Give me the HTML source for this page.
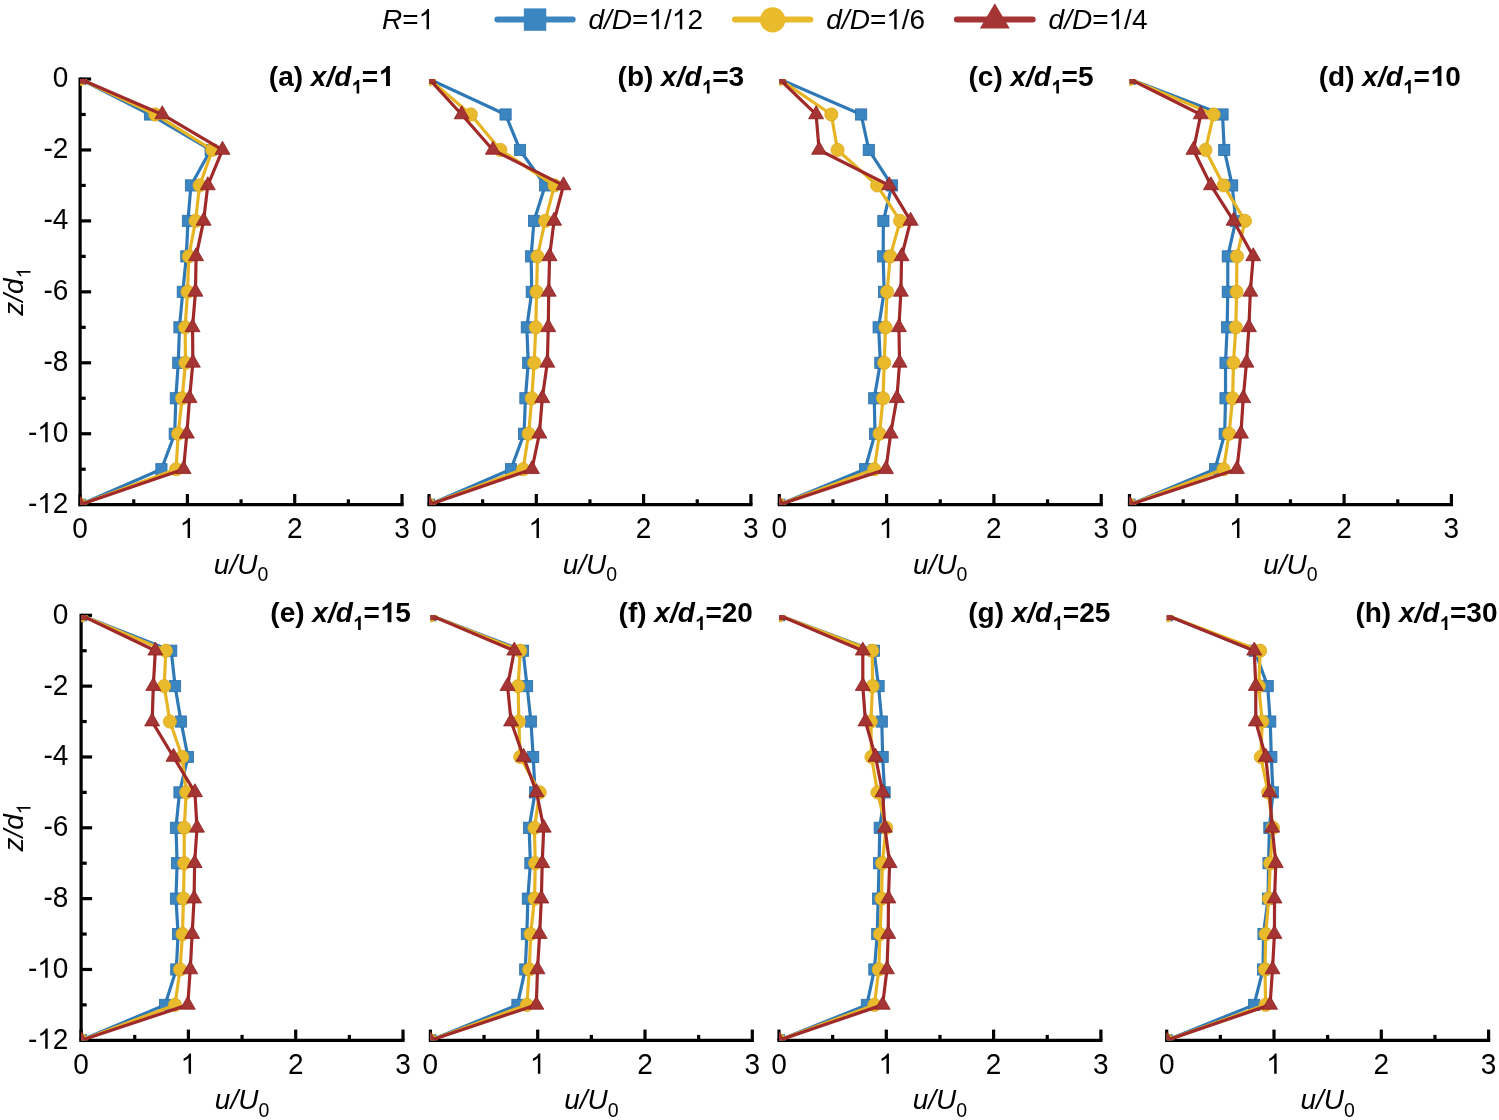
<!DOCTYPE html><html><head><meta charset="utf-8"><title>Velocity profiles</title><style>html,body{margin:0;padding:0;background:#fff;overflow:hidden;}svg{display:block;will-change:transform;}text{font-family:'Liberation Sans', sans-serif;fill:#000;}.o1{fill-opacity:0;}</style></head><body>
<svg width="1499" height="1120" viewBox="0 0 1499 1120">
<rect width="1499" height="1120" fill="#fff"/>
<defs>
<clipPath id="c0"><rect x="80.1" y="79" width="321.9" height="425.7"/></clipPath>
<clipPath id="c1"><rect x="429" y="79" width="321.9" height="425.7"/></clipPath>
<clipPath id="c2"><rect x="779.3" y="79" width="321.9" height="425.7"/></clipPath>
<clipPath id="c3"><rect x="1129.5" y="79" width="321.9" height="425.7"/></clipPath>
<clipPath id="c4"><rect x="81.1" y="615.3" width="321.9" height="425"/></clipPath>
<clipPath id="c5"><rect x="430.4" y="615.3" width="321.9" height="425"/></clipPath>
<clipPath id="c6"><rect x="779" y="615.3" width="321.9" height="425"/></clipPath>
<clipPath id="c7"><rect x="1166.7" y="615.3" width="321.9" height="425"/></clipPath>
</defs>
<g stroke="#000" stroke-width="3.2" fill="none">
<path d="M78.5 504.7H403.6"/>
<path d="M80.1 504.7V494"/>
<path d="M187.4 504.7V494"/>
<path d="M294.7 504.7V494"/>
<path d="M402 504.7V494"/>
<path d="M133.75 504.7V499.3"/>
<path d="M241.05 504.7V499.3"/>
<path d="M348.35 504.7V499.3"/>
<path d="M80.1 77.4V506.3"/>
<path d="M80.1 79H91.1"/>
<path d="M80.1 114.47H85.7"/>
<path d="M80.1 149.95H91.1"/>
<path d="M80.1 185.43H85.7"/>
<path d="M80.1 220.9H91.1"/>
<path d="M80.1 256.38H85.7"/>
<path d="M80.1 291.85H91.1"/>
<path d="M80.1 327.33H85.7"/>
<path d="M80.1 362.8H91.1"/>
<path d="M80.1 398.28H85.7"/>
<path d="M80.1 433.75H91.1"/>
<path d="M80.1 469.23H85.7"/>
</g>
<g clip-path="url(#c0)">
<polyline fill="none" stroke="#2F79B6" stroke-width="3.2" stroke-linejoin="round" points="80.1,79 149.95,114.47 210.58,149.95 190.94,185.43 187.94,220.9 186.33,256.38 182.79,291.85 179.46,327.33 178.28,362.8 175.81,398.28 174.74,433.75 161.43,469.23 80.1,504.7"/>
<rect x="74.5" y="73.4" width="11.2" height="11.2" fill="#3B85C0" stroke="#2B6FAC" stroke-width="0.8"/>
<rect x="144.35" y="108.88" width="11.2" height="11.2" fill="#3B85C0" stroke="#2B6FAC" stroke-width="0.8"/>
<rect x="204.98" y="144.35" width="11.2" height="11.2" fill="#3B85C0" stroke="#2B6FAC" stroke-width="0.8"/>
<rect x="185.34" y="179.83" width="11.2" height="11.2" fill="#3B85C0" stroke="#2B6FAC" stroke-width="0.8"/>
<rect x="182.34" y="215.3" width="11.2" height="11.2" fill="#3B85C0" stroke="#2B6FAC" stroke-width="0.8"/>
<rect x="180.73" y="250.78" width="11.2" height="11.2" fill="#3B85C0" stroke="#2B6FAC" stroke-width="0.8"/>
<rect x="177.19" y="286.25" width="11.2" height="11.2" fill="#3B85C0" stroke="#2B6FAC" stroke-width="0.8"/>
<rect x="173.86" y="321.73" width="11.2" height="11.2" fill="#3B85C0" stroke="#2B6FAC" stroke-width="0.8"/>
<rect x="172.68" y="357.2" width="11.2" height="11.2" fill="#3B85C0" stroke="#2B6FAC" stroke-width="0.8"/>
<rect x="170.21" y="392.68" width="11.2" height="11.2" fill="#3B85C0" stroke="#2B6FAC" stroke-width="0.8"/>
<rect x="169.14" y="428.15" width="11.2" height="11.2" fill="#3B85C0" stroke="#2B6FAC" stroke-width="0.8"/>
<rect x="155.83" y="463.62" width="11.2" height="11.2" fill="#3B85C0" stroke="#2B6FAC" stroke-width="0.8"/>
<rect x="74.5" y="499.1" width="11.2" height="11.2" fill="#3B85C0" stroke="#2B6FAC" stroke-width="0.8"/>
<polyline fill="none" stroke="#E7B424" stroke-width="3.2" stroke-linejoin="round" points="80.1,79 155.32,114.47 212.29,149.95 199.63,185.43 195.55,220.9 188.79,256.38 187.51,291.85 185.15,327.33 185.47,362.8 182.14,398.28 178.17,433.75 176.13,469.23 80.1,504.7"/>
<circle cx="80.1" cy="79" r="6.6" fill="#E9BA2C" stroke="#DCA91E" stroke-width="0.8"/>
<circle cx="155.32" cy="114.47" r="6.6" fill="#E9BA2C" stroke="#DCA91E" stroke-width="0.8"/>
<circle cx="212.29" cy="149.95" r="6.6" fill="#E9BA2C" stroke="#DCA91E" stroke-width="0.8"/>
<circle cx="199.63" cy="185.43" r="6.6" fill="#E9BA2C" stroke="#DCA91E" stroke-width="0.8"/>
<circle cx="195.55" cy="220.9" r="6.6" fill="#E9BA2C" stroke="#DCA91E" stroke-width="0.8"/>
<circle cx="188.79" cy="256.38" r="6.6" fill="#E9BA2C" stroke="#DCA91E" stroke-width="0.8"/>
<circle cx="187.51" cy="291.85" r="6.6" fill="#E9BA2C" stroke="#DCA91E" stroke-width="0.8"/>
<circle cx="185.15" cy="327.33" r="6.6" fill="#E9BA2C" stroke="#DCA91E" stroke-width="0.8"/>
<circle cx="185.47" cy="362.8" r="6.6" fill="#E9BA2C" stroke="#DCA91E" stroke-width="0.8"/>
<circle cx="182.14" cy="398.28" r="6.6" fill="#E9BA2C" stroke="#DCA91E" stroke-width="0.8"/>
<circle cx="178.17" cy="433.75" r="6.6" fill="#E9BA2C" stroke="#DCA91E" stroke-width="0.8"/>
<circle cx="176.13" cy="469.23" r="6.6" fill="#E9BA2C" stroke="#DCA91E" stroke-width="0.8"/>
<circle cx="80.1" cy="504.7" r="6.6" fill="#E9BA2C" stroke="#DCA91E" stroke-width="0.8"/>
<polyline fill="none" stroke="#A02929" stroke-width="3.2" stroke-linejoin="round" points="80.1,79 162.29,114.47 222.49,149.95 207.79,185.43 203.6,220.9 196.09,256.38 195.45,291.85 192.55,327.33 192.87,362.8 189.55,398.28 186.86,433.75 183.54,469.23 80.1,504.7"/>
<path d="M80.1 70.34L87.6 83.33L72.6 83.33Z" fill="#A53434" stroke="#8E2020" stroke-width="0.8" stroke-linejoin="miter"/>
<path d="M162.29 105.81L169.79 118.81L154.79 118.81Z" fill="#A53434" stroke="#8E2020" stroke-width="0.8" stroke-linejoin="miter"/>
<path d="M222.49 141.29L229.99 154.28L214.99 154.28Z" fill="#A53434" stroke="#8E2020" stroke-width="0.8" stroke-linejoin="miter"/>
<path d="M207.79 176.76L215.29 189.76L200.29 189.76Z" fill="#A53434" stroke="#8E2020" stroke-width="0.8" stroke-linejoin="miter"/>
<path d="M203.6 212.24L211.1 225.23L196.1 225.23Z" fill="#A53434" stroke="#8E2020" stroke-width="0.8" stroke-linejoin="miter"/>
<path d="M196.09 247.71L203.59 260.71L188.59 260.71Z" fill="#A53434" stroke="#8E2020" stroke-width="0.8" stroke-linejoin="miter"/>
<path d="M195.45 283.19L202.95 296.18L187.95 296.18Z" fill="#A53434" stroke="#8E2020" stroke-width="0.8" stroke-linejoin="miter"/>
<path d="M192.55 318.66L200.05 331.66L185.05 331.66Z" fill="#A53434" stroke="#8E2020" stroke-width="0.8" stroke-linejoin="miter"/>
<path d="M192.87 354.14L200.37 367.13L185.37 367.13Z" fill="#A53434" stroke="#8E2020" stroke-width="0.8" stroke-linejoin="miter"/>
<path d="M189.55 389.61L197.05 402.61L182.05 402.61Z" fill="#A53434" stroke="#8E2020" stroke-width="0.8" stroke-linejoin="miter"/>
<path d="M186.86 425.09L194.36 438.08L179.36 438.08Z" fill="#A53434" stroke="#8E2020" stroke-width="0.8" stroke-linejoin="miter"/>
<path d="M183.54 460.56L191.04 473.56L176.04 473.56Z" fill="#A53434" stroke="#8E2020" stroke-width="0.8" stroke-linejoin="miter"/>
<path d="M80.1 496.04L87.6 509.03L72.6 509.03Z" fill="#A53434" stroke="#8E2020" stroke-width="0.8" stroke-linejoin="miter"/>
</g>
<text transform="translate(80.1 538.1) scale(1 1.04)" font-size="28" text-anchor="middle">0</text>
<text transform="translate(187.4 538.1) scale(1 1.04)" font-size="28" text-anchor="middle"><tspan class="o1">1</tspan></text>
<text transform="translate(294.7 538.1) scale(1 1.04)" font-size="28" text-anchor="middle">2</text>
<text transform="translate(402 538.1) scale(1 1.04)" font-size="28" text-anchor="middle">3</text>
<text x="241.05" y="573.5" font-size="28" text-anchor="middle"><tspan font-style="italic">u</tspan><tspan font-style="italic">/U</tspan><tspan font-size="19.5" dy="7.7">0</tspan></text>
<text transform="translate(68.4 87.4) scale(1 1.04)" font-size="28" text-anchor="end">0</text>
<text transform="translate(68.4 158.35) scale(1 1.04)" font-size="28" text-anchor="end">-2</text>
<text transform="translate(68.4 229.3) scale(1 1.04)" font-size="28" text-anchor="end">-4</text>
<text transform="translate(68.4 300.25) scale(1 1.04)" font-size="28" text-anchor="end">-6</text>
<text transform="translate(68.4 371.2) scale(1 1.04)" font-size="28" text-anchor="end">-8</text>
<text transform="translate(68.4 442.15) scale(1 1.04)" font-size="28" text-anchor="end">-<tspan class="o1">1</tspan>0</text>
<text transform="translate(68.4 513.1) scale(1 1.04)" font-size="28" text-anchor="end">-<tspan class="o1">1</tspan>2</text>
<text transform="translate(22.8 291.55) rotate(-90)" font-size="28" text-anchor="middle"><tspan font-style="italic">z/d</tspan><tspan font-size="19.5" dy="7.7"><tspan class="o1">1</tspan></tspan></text>
<text x="393.8" y="86" font-size="28" font-weight="bold" text-anchor="end">(a) <tspan font-style="italic">x/d</tspan><tspan font-size="19" dy="7.6"><tspan class="o1">1</tspan></tspan><tspan dy="-7.6">=<tspan class="o1">1</tspan></tspan></text>
<g stroke="#000" stroke-width="3.2" fill="none">
<path d="M427.4 504.7H752.5"/>
<path d="M429 504.7V494"/>
<path d="M536.3 504.7V494"/>
<path d="M643.6 504.7V494"/>
<path d="M750.9 504.7V494"/>
<path d="M482.65 504.7V499.3"/>
<path d="M589.95 504.7V499.3"/>
<path d="M697.25 504.7V499.3"/>
</g>
<g clip-path="url(#c1)">
<polyline fill="none" stroke="#2F79B6" stroke-width="3.2" stroke-linejoin="round" points="429,79 505.58,114.47 519.95,149.95 545.17,185.43 534.01,220.9 531.11,256.38 531.76,291.85 526.82,327.33 528.22,362.8 525.43,398.28 524.03,433.75 510.94,469.23 429,504.7"/>
<rect x="423.4" y="73.4" width="11.2" height="11.2" fill="#3B85C0" stroke="#2B6FAC" stroke-width="0.8"/>
<rect x="499.98" y="108.88" width="11.2" height="11.2" fill="#3B85C0" stroke="#2B6FAC" stroke-width="0.8"/>
<rect x="514.35" y="144.35" width="11.2" height="11.2" fill="#3B85C0" stroke="#2B6FAC" stroke-width="0.8"/>
<rect x="539.57" y="179.83" width="11.2" height="11.2" fill="#3B85C0" stroke="#2B6FAC" stroke-width="0.8"/>
<rect x="528.41" y="215.3" width="11.2" height="11.2" fill="#3B85C0" stroke="#2B6FAC" stroke-width="0.8"/>
<rect x="525.51" y="250.78" width="11.2" height="11.2" fill="#3B85C0" stroke="#2B6FAC" stroke-width="0.8"/>
<rect x="526.16" y="286.25" width="11.2" height="11.2" fill="#3B85C0" stroke="#2B6FAC" stroke-width="0.8"/>
<rect x="521.22" y="321.73" width="11.2" height="11.2" fill="#3B85C0" stroke="#2B6FAC" stroke-width="0.8"/>
<rect x="522.62" y="357.2" width="11.2" height="11.2" fill="#3B85C0" stroke="#2B6FAC" stroke-width="0.8"/>
<rect x="519.83" y="392.68" width="11.2" height="11.2" fill="#3B85C0" stroke="#2B6FAC" stroke-width="0.8"/>
<rect x="518.43" y="428.15" width="11.2" height="11.2" fill="#3B85C0" stroke="#2B6FAC" stroke-width="0.8"/>
<rect x="505.34" y="463.62" width="11.2" height="11.2" fill="#3B85C0" stroke="#2B6FAC" stroke-width="0.8"/>
<rect x="423.4" y="499.1" width="11.2" height="11.2" fill="#3B85C0" stroke="#2B6FAC" stroke-width="0.8"/>
<polyline fill="none" stroke="#E7B424" stroke-width="3.2" stroke-linejoin="round" points="429,79 470.81,114.47 500.32,149.95 554.5,185.43 545.17,220.9 537.44,256.38 536.59,291.85 535.73,327.33 534.22,362.8 531.76,398.28 528.65,433.75 523.07,469.23 429,504.7"/>
<circle cx="429" cy="79" r="6.6" fill="#E9BA2C" stroke="#DCA91E" stroke-width="0.8"/>
<circle cx="470.81" cy="114.47" r="6.6" fill="#E9BA2C" stroke="#DCA91E" stroke-width="0.8"/>
<circle cx="500.32" cy="149.95" r="6.6" fill="#E9BA2C" stroke="#DCA91E" stroke-width="0.8"/>
<circle cx="554.5" cy="185.43" r="6.6" fill="#E9BA2C" stroke="#DCA91E" stroke-width="0.8"/>
<circle cx="545.17" cy="220.9" r="6.6" fill="#E9BA2C" stroke="#DCA91E" stroke-width="0.8"/>
<circle cx="537.44" cy="256.38" r="6.6" fill="#E9BA2C" stroke="#DCA91E" stroke-width="0.8"/>
<circle cx="536.59" cy="291.85" r="6.6" fill="#E9BA2C" stroke="#DCA91E" stroke-width="0.8"/>
<circle cx="535.73" cy="327.33" r="6.6" fill="#E9BA2C" stroke="#DCA91E" stroke-width="0.8"/>
<circle cx="534.22" cy="362.8" r="6.6" fill="#E9BA2C" stroke="#DCA91E" stroke-width="0.8"/>
<circle cx="531.76" cy="398.28" r="6.6" fill="#E9BA2C" stroke="#DCA91E" stroke-width="0.8"/>
<circle cx="528.65" cy="433.75" r="6.6" fill="#E9BA2C" stroke="#DCA91E" stroke-width="0.8"/>
<circle cx="523.07" cy="469.23" r="6.6" fill="#E9BA2C" stroke="#DCA91E" stroke-width="0.8"/>
<circle cx="429" cy="504.7" r="6.6" fill="#E9BA2C" stroke="#DCA91E" stroke-width="0.8"/>
<polyline fill="none" stroke="#A02929" stroke-width="3.2" stroke-linejoin="round" points="429,79 461.69,114.47 492.91,149.95 563.52,185.43 554.08,220.9 549.57,256.38 548.71,291.85 548.28,327.33 547.32,362.8 542.27,398.28 539.38,433.75 531.97,469.23 429,504.7"/>
<path d="M429 70.34L436.5 83.33L421.5 83.33Z" fill="#A53434" stroke="#8E2020" stroke-width="0.8" stroke-linejoin="miter"/>
<path d="M461.69 105.81L469.19 118.81L454.19 118.81Z" fill="#A53434" stroke="#8E2020" stroke-width="0.8" stroke-linejoin="miter"/>
<path d="M492.91 141.29L500.41 154.28L485.41 154.28Z" fill="#A53434" stroke="#8E2020" stroke-width="0.8" stroke-linejoin="miter"/>
<path d="M563.52 176.76L571.02 189.76L556.02 189.76Z" fill="#A53434" stroke="#8E2020" stroke-width="0.8" stroke-linejoin="miter"/>
<path d="M554.08 212.24L561.58 225.23L546.58 225.23Z" fill="#A53434" stroke="#8E2020" stroke-width="0.8" stroke-linejoin="miter"/>
<path d="M549.57 247.71L557.07 260.71L542.07 260.71Z" fill="#A53434" stroke="#8E2020" stroke-width="0.8" stroke-linejoin="miter"/>
<path d="M548.71 283.19L556.21 296.18L541.21 296.18Z" fill="#A53434" stroke="#8E2020" stroke-width="0.8" stroke-linejoin="miter"/>
<path d="M548.28 318.66L555.78 331.66L540.78 331.66Z" fill="#A53434" stroke="#8E2020" stroke-width="0.8" stroke-linejoin="miter"/>
<path d="M547.32 354.14L554.82 367.13L539.82 367.13Z" fill="#A53434" stroke="#8E2020" stroke-width="0.8" stroke-linejoin="miter"/>
<path d="M542.27 389.61L549.77 402.61L534.77 402.61Z" fill="#A53434" stroke="#8E2020" stroke-width="0.8" stroke-linejoin="miter"/>
<path d="M539.38 425.09L546.88 438.08L531.88 438.08Z" fill="#A53434" stroke="#8E2020" stroke-width="0.8" stroke-linejoin="miter"/>
<path d="M531.97 460.56L539.47 473.56L524.47 473.56Z" fill="#A53434" stroke="#8E2020" stroke-width="0.8" stroke-linejoin="miter"/>
<path d="M429 496.04L436.5 509.03L421.5 509.03Z" fill="#A53434" stroke="#8E2020" stroke-width="0.8" stroke-linejoin="miter"/>
</g>
<text transform="translate(429 538.1) scale(1 1.04)" font-size="28" text-anchor="middle">0</text>
<text transform="translate(536.3 538.1) scale(1 1.04)" font-size="28" text-anchor="middle"><tspan class="o1">1</tspan></text>
<text transform="translate(643.6 538.1) scale(1 1.04)" font-size="28" text-anchor="middle">2</text>
<text transform="translate(750.9 538.1) scale(1 1.04)" font-size="28" text-anchor="middle">3</text>
<text x="589.95" y="573.5" font-size="28" text-anchor="middle"><tspan font-style="italic">u</tspan><tspan font-style="italic">/U</tspan><tspan font-size="19.5" dy="7.7">0</tspan></text>
<text x="744.1" y="86" font-size="28" font-weight="bold" text-anchor="end">(b) <tspan font-style="italic">x/d</tspan><tspan font-size="19" dy="7.6"><tspan class="o1">1</tspan></tspan><tspan dy="-7.6">=3</tspan></text>
<g stroke="#000" stroke-width="3.2" fill="none">
<path d="M777.7 504.7H1102.8"/>
<path d="M779.3 504.7V494"/>
<path d="M886.6 504.7V494"/>
<path d="M993.9 504.7V494"/>
<path d="M1101.2 504.7V494"/>
<path d="M832.95 504.7V499.3"/>
<path d="M940.25 504.7V499.3"/>
<path d="M1047.55 504.7V499.3"/>
</g>
<g clip-path="url(#c2)">
<polyline fill="none" stroke="#2F79B6" stroke-width="3.2" stroke-linejoin="round" points="779.3,79 861.16,114.47 868.77,149.95 891.84,185.43 883.37,220.9 883.15,256.38 884.12,291.85 878.65,327.33 880.36,362.8 874.25,398.28 875,433.75 865.02,469.23 779.3,504.7"/>
<rect x="773.7" y="73.4" width="11.2" height="11.2" fill="#3B85C0" stroke="#2B6FAC" stroke-width="0.8"/>
<rect x="855.56" y="108.88" width="11.2" height="11.2" fill="#3B85C0" stroke="#2B6FAC" stroke-width="0.8"/>
<rect x="863.17" y="144.35" width="11.2" height="11.2" fill="#3B85C0" stroke="#2B6FAC" stroke-width="0.8"/>
<rect x="886.24" y="179.83" width="11.2" height="11.2" fill="#3B85C0" stroke="#2B6FAC" stroke-width="0.8"/>
<rect x="877.77" y="215.3" width="11.2" height="11.2" fill="#3B85C0" stroke="#2B6FAC" stroke-width="0.8"/>
<rect x="877.55" y="250.78" width="11.2" height="11.2" fill="#3B85C0" stroke="#2B6FAC" stroke-width="0.8"/>
<rect x="878.52" y="286.25" width="11.2" height="11.2" fill="#3B85C0" stroke="#2B6FAC" stroke-width="0.8"/>
<rect x="873.05" y="321.73" width="11.2" height="11.2" fill="#3B85C0" stroke="#2B6FAC" stroke-width="0.8"/>
<rect x="874.76" y="357.2" width="11.2" height="11.2" fill="#3B85C0" stroke="#2B6FAC" stroke-width="0.8"/>
<rect x="868.65" y="392.68" width="11.2" height="11.2" fill="#3B85C0" stroke="#2B6FAC" stroke-width="0.8"/>
<rect x="869.4" y="428.15" width="11.2" height="11.2" fill="#3B85C0" stroke="#2B6FAC" stroke-width="0.8"/>
<rect x="859.42" y="463.62" width="11.2" height="11.2" fill="#3B85C0" stroke="#2B6FAC" stroke-width="0.8"/>
<rect x="773.7" y="499.1" width="11.2" height="11.2" fill="#3B85C0" stroke="#2B6FAC" stroke-width="0.8"/>
<polyline fill="none" stroke="#E7B424" stroke-width="3.2" stroke-linejoin="round" points="779.3,79 831.33,114.47 837.55,149.95 877.14,185.43 900.11,220.9 890.23,256.38 887.12,291.85 885.51,327.33 884.22,362.8 883.04,398.28 879.5,433.75 874.25,469.23 779.3,504.7"/>
<circle cx="779.3" cy="79" r="6.6" fill="#E9BA2C" stroke="#DCA91E" stroke-width="0.8"/>
<circle cx="831.33" cy="114.47" r="6.6" fill="#E9BA2C" stroke="#DCA91E" stroke-width="0.8"/>
<circle cx="837.55" cy="149.95" r="6.6" fill="#E9BA2C" stroke="#DCA91E" stroke-width="0.8"/>
<circle cx="877.14" cy="185.43" r="6.6" fill="#E9BA2C" stroke="#DCA91E" stroke-width="0.8"/>
<circle cx="900.11" cy="220.9" r="6.6" fill="#E9BA2C" stroke="#DCA91E" stroke-width="0.8"/>
<circle cx="890.23" cy="256.38" r="6.6" fill="#E9BA2C" stroke="#DCA91E" stroke-width="0.8"/>
<circle cx="887.12" cy="291.85" r="6.6" fill="#E9BA2C" stroke="#DCA91E" stroke-width="0.8"/>
<circle cx="885.51" cy="327.33" r="6.6" fill="#E9BA2C" stroke="#DCA91E" stroke-width="0.8"/>
<circle cx="884.22" cy="362.8" r="6.6" fill="#E9BA2C" stroke="#DCA91E" stroke-width="0.8"/>
<circle cx="883.04" cy="398.28" r="6.6" fill="#E9BA2C" stroke="#DCA91E" stroke-width="0.8"/>
<circle cx="879.5" cy="433.75" r="6.6" fill="#E9BA2C" stroke="#DCA91E" stroke-width="0.8"/>
<circle cx="874.25" cy="469.23" r="6.6" fill="#E9BA2C" stroke="#DCA91E" stroke-width="0.8"/>
<circle cx="779.3" cy="504.7" r="6.6" fill="#E9BA2C" stroke="#DCA91E" stroke-width="0.8"/>
<polyline fill="none" stroke="#A02929" stroke-width="3.2" stroke-linejoin="round" points="779.3,79 816.09,114.47 819.09,149.95 889.16,185.43 910.62,220.9 901.61,256.38 900.86,291.85 898.92,327.33 899.57,362.8 896.89,398.28 890.66,433.75 885.94,469.23 779.3,504.7"/>
<path d="M779.3 70.34L786.8 83.33L771.8 83.33Z" fill="#A53434" stroke="#8E2020" stroke-width="0.8" stroke-linejoin="miter"/>
<path d="M816.09 105.81L823.59 118.81L808.59 118.81Z" fill="#A53434" stroke="#8E2020" stroke-width="0.8" stroke-linejoin="miter"/>
<path d="M819.09 141.29L826.59 154.28L811.59 154.28Z" fill="#A53434" stroke="#8E2020" stroke-width="0.8" stroke-linejoin="miter"/>
<path d="M889.16 176.76L896.66 189.76L881.66 189.76Z" fill="#A53434" stroke="#8E2020" stroke-width="0.8" stroke-linejoin="miter"/>
<path d="M910.62 212.24L918.12 225.23L903.12 225.23Z" fill="#A53434" stroke="#8E2020" stroke-width="0.8" stroke-linejoin="miter"/>
<path d="M901.61 247.71L909.11 260.71L894.11 260.71Z" fill="#A53434" stroke="#8E2020" stroke-width="0.8" stroke-linejoin="miter"/>
<path d="M900.86 283.19L908.36 296.18L893.36 296.18Z" fill="#A53434" stroke="#8E2020" stroke-width="0.8" stroke-linejoin="miter"/>
<path d="M898.92 318.66L906.42 331.66L891.42 331.66Z" fill="#A53434" stroke="#8E2020" stroke-width="0.8" stroke-linejoin="miter"/>
<path d="M899.57 354.14L907.07 367.13L892.07 367.13Z" fill="#A53434" stroke="#8E2020" stroke-width="0.8" stroke-linejoin="miter"/>
<path d="M896.89 389.61L904.39 402.61L889.39 402.61Z" fill="#A53434" stroke="#8E2020" stroke-width="0.8" stroke-linejoin="miter"/>
<path d="M890.66 425.09L898.16 438.08L883.16 438.08Z" fill="#A53434" stroke="#8E2020" stroke-width="0.8" stroke-linejoin="miter"/>
<path d="M885.94 460.56L893.44 473.56L878.44 473.56Z" fill="#A53434" stroke="#8E2020" stroke-width="0.8" stroke-linejoin="miter"/>
<path d="M779.3 496.04L786.8 509.03L771.8 509.03Z" fill="#A53434" stroke="#8E2020" stroke-width="0.8" stroke-linejoin="miter"/>
</g>
<text transform="translate(779.3 538.1) scale(1 1.04)" font-size="28" text-anchor="middle">0</text>
<text transform="translate(886.6 538.1) scale(1 1.04)" font-size="28" text-anchor="middle"><tspan class="o1">1</tspan></text>
<text transform="translate(993.9 538.1) scale(1 1.04)" font-size="28" text-anchor="middle">2</text>
<text transform="translate(1101.2 538.1) scale(1 1.04)" font-size="28" text-anchor="middle">3</text>
<text x="940.25" y="573.5" font-size="28" text-anchor="middle"><tspan font-style="italic">u</tspan><tspan font-style="italic">/U</tspan><tspan font-size="19.5" dy="7.7">0</tspan></text>
<text x="1093.5" y="86" font-size="28" font-weight="bold" text-anchor="end">(c) <tspan font-style="italic">x/d</tspan><tspan font-size="19" dy="7.6"><tspan class="o1">1</tspan></tspan><tspan dy="-7.6">=5</tspan></text>
<g stroke="#000" stroke-width="3.2" fill="none">
<path d="M1127.9 504.7H1453"/>
<path d="M1129.5 504.7V494"/>
<path d="M1236.8 504.7V494"/>
<path d="M1344.1 504.7V494"/>
<path d="M1451.4 504.7V494"/>
<path d="M1183.15 504.7V499.3"/>
<path d="M1290.45 504.7V499.3"/>
<path d="M1397.75 504.7V499.3"/>
</g>
<g clip-path="url(#c3)">
<polyline fill="none" stroke="#2F79B6" stroke-width="3.2" stroke-linejoin="round" points="1129.5,79 1222.53,114.47 1224.25,149.95 1232.19,185.43 1235.73,220.9 1227.79,256.38 1227.79,291.85 1227.14,327.33 1225.53,362.8 1225.53,398.28 1224.68,433.75 1215.02,469.23 1129.5,504.7"/>
<rect x="1123.9" y="73.4" width="11.2" height="11.2" fill="#3B85C0" stroke="#2B6FAC" stroke-width="0.8"/>
<rect x="1216.93" y="108.88" width="11.2" height="11.2" fill="#3B85C0" stroke="#2B6FAC" stroke-width="0.8"/>
<rect x="1218.65" y="144.35" width="11.2" height="11.2" fill="#3B85C0" stroke="#2B6FAC" stroke-width="0.8"/>
<rect x="1226.59" y="179.83" width="11.2" height="11.2" fill="#3B85C0" stroke="#2B6FAC" stroke-width="0.8"/>
<rect x="1230.13" y="215.3" width="11.2" height="11.2" fill="#3B85C0" stroke="#2B6FAC" stroke-width="0.8"/>
<rect x="1222.19" y="250.78" width="11.2" height="11.2" fill="#3B85C0" stroke="#2B6FAC" stroke-width="0.8"/>
<rect x="1222.19" y="286.25" width="11.2" height="11.2" fill="#3B85C0" stroke="#2B6FAC" stroke-width="0.8"/>
<rect x="1221.54" y="321.73" width="11.2" height="11.2" fill="#3B85C0" stroke="#2B6FAC" stroke-width="0.8"/>
<rect x="1219.93" y="357.2" width="11.2" height="11.2" fill="#3B85C0" stroke="#2B6FAC" stroke-width="0.8"/>
<rect x="1219.93" y="392.68" width="11.2" height="11.2" fill="#3B85C0" stroke="#2B6FAC" stroke-width="0.8"/>
<rect x="1219.08" y="428.15" width="11.2" height="11.2" fill="#3B85C0" stroke="#2B6FAC" stroke-width="0.8"/>
<rect x="1209.42" y="463.62" width="11.2" height="11.2" fill="#3B85C0" stroke="#2B6FAC" stroke-width="0.8"/>
<rect x="1123.9" y="499.1" width="11.2" height="11.2" fill="#3B85C0" stroke="#2B6FAC" stroke-width="0.8"/>
<polyline fill="none" stroke="#E7B424" stroke-width="3.2" stroke-linejoin="round" points="1129.5,79 1213.62,114.47 1205.47,149.95 1223.6,185.43 1244.95,220.9 1236.91,256.38 1236.59,291.85 1235.83,327.33 1233.47,362.8 1232.62,398.28 1229.07,433.75 1223.49,469.23 1129.5,504.7"/>
<circle cx="1129.5" cy="79" r="6.6" fill="#E9BA2C" stroke="#DCA91E" stroke-width="0.8"/>
<circle cx="1213.62" cy="114.47" r="6.6" fill="#E9BA2C" stroke="#DCA91E" stroke-width="0.8"/>
<circle cx="1205.47" cy="149.95" r="6.6" fill="#E9BA2C" stroke="#DCA91E" stroke-width="0.8"/>
<circle cx="1223.6" cy="185.43" r="6.6" fill="#E9BA2C" stroke="#DCA91E" stroke-width="0.8"/>
<circle cx="1244.95" cy="220.9" r="6.6" fill="#E9BA2C" stroke="#DCA91E" stroke-width="0.8"/>
<circle cx="1236.91" cy="256.38" r="6.6" fill="#E9BA2C" stroke="#DCA91E" stroke-width="0.8"/>
<circle cx="1236.59" cy="291.85" r="6.6" fill="#E9BA2C" stroke="#DCA91E" stroke-width="0.8"/>
<circle cx="1235.83" cy="327.33" r="6.6" fill="#E9BA2C" stroke="#DCA91E" stroke-width="0.8"/>
<circle cx="1233.47" cy="362.8" r="6.6" fill="#E9BA2C" stroke="#DCA91E" stroke-width="0.8"/>
<circle cx="1232.62" cy="398.28" r="6.6" fill="#E9BA2C" stroke="#DCA91E" stroke-width="0.8"/>
<circle cx="1229.07" cy="433.75" r="6.6" fill="#E9BA2C" stroke="#DCA91E" stroke-width="0.8"/>
<circle cx="1223.49" cy="469.23" r="6.6" fill="#E9BA2C" stroke="#DCA91E" stroke-width="0.8"/>
<circle cx="1129.5" cy="504.7" r="6.6" fill="#E9BA2C" stroke="#DCA91E" stroke-width="0.8"/>
<polyline fill="none" stroke="#A02929" stroke-width="3.2" stroke-linejoin="round" points="1129.5,79 1200.75,114.47 1193.45,149.95 1210.94,185.43 1233.58,220.9 1253.22,256.38 1250.32,291.85 1248.92,327.33 1246.46,362.8 1243.24,398.28 1240.88,433.75 1236.91,469.23 1129.5,504.7"/>
<path d="M1129.5 70.34L1137 83.33L1122 83.33Z" fill="#A53434" stroke="#8E2020" stroke-width="0.8" stroke-linejoin="miter"/>
<path d="M1200.75 105.81L1208.25 118.81L1193.25 118.81Z" fill="#A53434" stroke="#8E2020" stroke-width="0.8" stroke-linejoin="miter"/>
<path d="M1193.45 141.29L1200.95 154.28L1185.95 154.28Z" fill="#A53434" stroke="#8E2020" stroke-width="0.8" stroke-linejoin="miter"/>
<path d="M1210.94 176.76L1218.44 189.76L1203.44 189.76Z" fill="#A53434" stroke="#8E2020" stroke-width="0.8" stroke-linejoin="miter"/>
<path d="M1233.58 212.24L1241.08 225.23L1226.08 225.23Z" fill="#A53434" stroke="#8E2020" stroke-width="0.8" stroke-linejoin="miter"/>
<path d="M1253.22 247.71L1260.72 260.71L1245.72 260.71Z" fill="#A53434" stroke="#8E2020" stroke-width="0.8" stroke-linejoin="miter"/>
<path d="M1250.32 283.19L1257.82 296.18L1242.82 296.18Z" fill="#A53434" stroke="#8E2020" stroke-width="0.8" stroke-linejoin="miter"/>
<path d="M1248.92 318.66L1256.42 331.66L1241.42 331.66Z" fill="#A53434" stroke="#8E2020" stroke-width="0.8" stroke-linejoin="miter"/>
<path d="M1246.46 354.14L1253.96 367.13L1238.96 367.13Z" fill="#A53434" stroke="#8E2020" stroke-width="0.8" stroke-linejoin="miter"/>
<path d="M1243.24 389.61L1250.74 402.61L1235.74 402.61Z" fill="#A53434" stroke="#8E2020" stroke-width="0.8" stroke-linejoin="miter"/>
<path d="M1240.88 425.09L1248.38 438.08L1233.38 438.08Z" fill="#A53434" stroke="#8E2020" stroke-width="0.8" stroke-linejoin="miter"/>
<path d="M1236.91 460.56L1244.41 473.56L1229.41 473.56Z" fill="#A53434" stroke="#8E2020" stroke-width="0.8" stroke-linejoin="miter"/>
<path d="M1129.5 496.04L1137 509.03L1122 509.03Z" fill="#A53434" stroke="#8E2020" stroke-width="0.8" stroke-linejoin="miter"/>
</g>
<text transform="translate(1129.5 538.1) scale(1 1.04)" font-size="28" text-anchor="middle">0</text>
<text transform="translate(1236.8 538.1) scale(1 1.04)" font-size="28" text-anchor="middle"><tspan class="o1">1</tspan></text>
<text transform="translate(1344.1 538.1) scale(1 1.04)" font-size="28" text-anchor="middle">2</text>
<text transform="translate(1451.4 538.1) scale(1 1.04)" font-size="28" text-anchor="middle">3</text>
<text x="1290.45" y="573.5" font-size="28" text-anchor="middle"><tspan font-style="italic">u</tspan><tspan font-style="italic">/U</tspan><tspan font-size="19.5" dy="7.7">0</tspan></text>
<text x="1460.9" y="86" font-size="28" font-weight="bold" text-anchor="end">(d) <tspan font-style="italic">x/d</tspan><tspan font-size="19" dy="7.6"><tspan class="o1">1</tspan></tspan><tspan dy="-7.6">=<tspan class="o1">1</tspan>0</tspan></text>
<g stroke="#000" stroke-width="3.2" fill="none">
<path d="M79.5 1040.3H404.6"/>
<path d="M81.1 1040.3V1029.6"/>
<path d="M188.4 1040.3V1029.6"/>
<path d="M295.7 1040.3V1029.6"/>
<path d="M403 1040.3V1029.6"/>
<path d="M134.75 1040.3V1034.9"/>
<path d="M242.05 1040.3V1034.9"/>
<path d="M349.35 1040.3V1034.9"/>
<path d="M81.1 613.7V1041.9"/>
<path d="M81.1 615.3H92.1"/>
<path d="M81.1 650.72H86.7"/>
<path d="M81.1 686.13H92.1"/>
<path d="M81.1 721.55H86.7"/>
<path d="M81.1 756.97H92.1"/>
<path d="M81.1 792.38H86.7"/>
<path d="M81.1 827.8H92.1"/>
<path d="M81.1 863.22H86.7"/>
<path d="M81.1 898.63H92.1"/>
<path d="M81.1 934.05H86.7"/>
<path d="M81.1 969.47H92.1"/>
<path d="M81.1 1004.88H86.7"/>
</g>
<g clip-path="url(#c4)">
<polyline fill="none" stroke="#2F79B6" stroke-width="3.2" stroke-linejoin="round" points="81.1,615.3 171.23,650.72 175.09,686.13 181,721.55 187.97,756.97 179.49,792.38 175.95,827.8 177.13,863.22 175.95,898.63 178.1,934.05 176.28,969.47 165.01,1004.88 81.1,1040.3"/>
<rect x="75.5" y="609.7" width="11.2" height="11.2" fill="#3B85C0" stroke="#2B6FAC" stroke-width="0.8"/>
<rect x="165.63" y="645.12" width="11.2" height="11.2" fill="#3B85C0" stroke="#2B6FAC" stroke-width="0.8"/>
<rect x="169.49" y="680.53" width="11.2" height="11.2" fill="#3B85C0" stroke="#2B6FAC" stroke-width="0.8"/>
<rect x="175.4" y="715.95" width="11.2" height="11.2" fill="#3B85C0" stroke="#2B6FAC" stroke-width="0.8"/>
<rect x="182.37" y="751.37" width="11.2" height="11.2" fill="#3B85C0" stroke="#2B6FAC" stroke-width="0.8"/>
<rect x="173.89" y="786.78" width="11.2" height="11.2" fill="#3B85C0" stroke="#2B6FAC" stroke-width="0.8"/>
<rect x="170.35" y="822.2" width="11.2" height="11.2" fill="#3B85C0" stroke="#2B6FAC" stroke-width="0.8"/>
<rect x="171.53" y="857.62" width="11.2" height="11.2" fill="#3B85C0" stroke="#2B6FAC" stroke-width="0.8"/>
<rect x="170.35" y="893.03" width="11.2" height="11.2" fill="#3B85C0" stroke="#2B6FAC" stroke-width="0.8"/>
<rect x="172.5" y="928.45" width="11.2" height="11.2" fill="#3B85C0" stroke="#2B6FAC" stroke-width="0.8"/>
<rect x="170.68" y="963.87" width="11.2" height="11.2" fill="#3B85C0" stroke="#2B6FAC" stroke-width="0.8"/>
<rect x="159.41" y="999.28" width="11.2" height="11.2" fill="#3B85C0" stroke="#2B6FAC" stroke-width="0.8"/>
<rect x="75.5" y="1034.7" width="11.2" height="11.2" fill="#3B85C0" stroke="#2B6FAC" stroke-width="0.8"/>
<polyline fill="none" stroke="#E7B424" stroke-width="3.2" stroke-linejoin="round" points="81.1,615.3 165.87,650.72 164.15,686.13 169.94,721.55 182.18,756.97 186.25,792.38 184.22,827.8 184.22,863.22 183.46,898.63 182.5,934.05 180.03,969.47 174.99,1004.88 81.1,1040.3"/>
<circle cx="81.1" cy="615.3" r="6.6" fill="#E9BA2C" stroke="#DCA91E" stroke-width="0.8"/>
<circle cx="165.87" cy="650.72" r="6.6" fill="#E9BA2C" stroke="#DCA91E" stroke-width="0.8"/>
<circle cx="164.15" cy="686.13" r="6.6" fill="#E9BA2C" stroke="#DCA91E" stroke-width="0.8"/>
<circle cx="169.94" cy="721.55" r="6.6" fill="#E9BA2C" stroke="#DCA91E" stroke-width="0.8"/>
<circle cx="182.18" cy="756.97" r="6.6" fill="#E9BA2C" stroke="#DCA91E" stroke-width="0.8"/>
<circle cx="186.25" cy="792.38" r="6.6" fill="#E9BA2C" stroke="#DCA91E" stroke-width="0.8"/>
<circle cx="184.22" cy="827.8" r="6.6" fill="#E9BA2C" stroke="#DCA91E" stroke-width="0.8"/>
<circle cx="184.22" cy="863.22" r="6.6" fill="#E9BA2C" stroke="#DCA91E" stroke-width="0.8"/>
<circle cx="183.46" cy="898.63" r="6.6" fill="#E9BA2C" stroke="#DCA91E" stroke-width="0.8"/>
<circle cx="182.5" cy="934.05" r="6.6" fill="#E9BA2C" stroke="#DCA91E" stroke-width="0.8"/>
<circle cx="180.03" cy="969.47" r="6.6" fill="#E9BA2C" stroke="#DCA91E" stroke-width="0.8"/>
<circle cx="174.99" cy="1004.88" r="6.6" fill="#E9BA2C" stroke="#DCA91E" stroke-width="0.8"/>
<circle cx="81.1" cy="1040.3" r="6.6" fill="#E9BA2C" stroke="#DCA91E" stroke-width="0.8"/>
<polyline fill="none" stroke="#A02929" stroke-width="3.2" stroke-linejoin="round" points="81.1,615.3 155.35,650.72 153.31,686.13 152.13,721.55 173.49,756.97 194.95,792.38 196.98,827.8 194.62,863.22 194.09,898.63 192.16,934.05 190.22,969.47 187.76,1004.88 81.1,1040.3"/>
<path d="M81.1 606.64L88.6 619.63L73.6 619.63Z" fill="#A53434" stroke="#8E2020" stroke-width="0.8" stroke-linejoin="miter"/>
<path d="M155.35 642.06L162.85 655.05L147.85 655.05Z" fill="#A53434" stroke="#8E2020" stroke-width="0.8" stroke-linejoin="miter"/>
<path d="M153.31 677.47L160.81 690.46L145.81 690.46Z" fill="#A53434" stroke="#8E2020" stroke-width="0.8" stroke-linejoin="miter"/>
<path d="M152.13 712.89L159.63 725.88L144.63 725.88Z" fill="#A53434" stroke="#8E2020" stroke-width="0.8" stroke-linejoin="miter"/>
<path d="M173.49 748.31L180.99 761.3L165.99 761.3Z" fill="#A53434" stroke="#8E2020" stroke-width="0.8" stroke-linejoin="miter"/>
<path d="M194.95 783.72L202.45 796.71L187.45 796.71Z" fill="#A53434" stroke="#8E2020" stroke-width="0.8" stroke-linejoin="miter"/>
<path d="M196.98 819.14L204.48 832.13L189.48 832.13Z" fill="#A53434" stroke="#8E2020" stroke-width="0.8" stroke-linejoin="miter"/>
<path d="M194.62 854.56L202.12 867.55L187.12 867.55Z" fill="#A53434" stroke="#8E2020" stroke-width="0.8" stroke-linejoin="miter"/>
<path d="M194.09 889.97L201.59 902.96L186.59 902.96Z" fill="#A53434" stroke="#8E2020" stroke-width="0.8" stroke-linejoin="miter"/>
<path d="M192.16 925.39L199.66 938.38L184.66 938.38Z" fill="#A53434" stroke="#8E2020" stroke-width="0.8" stroke-linejoin="miter"/>
<path d="M190.22 960.81L197.72 973.8L182.72 973.8Z" fill="#A53434" stroke="#8E2020" stroke-width="0.8" stroke-linejoin="miter"/>
<path d="M187.76 996.22L195.26 1009.21L180.26 1009.21Z" fill="#A53434" stroke="#8E2020" stroke-width="0.8" stroke-linejoin="miter"/>
<path d="M81.1 1031.64L88.6 1044.63L73.6 1044.63Z" fill="#A53434" stroke="#8E2020" stroke-width="0.8" stroke-linejoin="miter"/>
</g>
<text transform="translate(81.1 1073.7) scale(1 1.04)" font-size="28" text-anchor="middle">0</text>
<text transform="translate(188.4 1073.7) scale(1 1.04)" font-size="28" text-anchor="middle"><tspan class="o1">1</tspan></text>
<text transform="translate(295.7 1073.7) scale(1 1.04)" font-size="28" text-anchor="middle">2</text>
<text transform="translate(403 1073.7) scale(1 1.04)" font-size="28" text-anchor="middle">3</text>
<text x="242.05" y="1109.1" font-size="28" text-anchor="middle"><tspan font-style="italic">u</tspan><tspan font-style="italic">/U</tspan><tspan font-size="19.5" dy="7.7">0</tspan></text>
<text transform="translate(68.4 623.7) scale(1 1.04)" font-size="28" text-anchor="end">0</text>
<text transform="translate(68.4 694.53) scale(1 1.04)" font-size="28" text-anchor="end">-2</text>
<text transform="translate(68.4 765.37) scale(1 1.04)" font-size="28" text-anchor="end">-4</text>
<text transform="translate(68.4 836.2) scale(1 1.04)" font-size="28" text-anchor="end">-6</text>
<text transform="translate(68.4 907.03) scale(1 1.04)" font-size="28" text-anchor="end">-8</text>
<text transform="translate(68.4 977.87) scale(1 1.04)" font-size="28" text-anchor="end">-<tspan class="o1">1</tspan>0</text>
<text transform="translate(68.4 1048.7) scale(1 1.04)" font-size="28" text-anchor="end">-<tspan class="o1">1</tspan>2</text>
<text transform="translate(22.8 827.5) rotate(-90)" font-size="28" text-anchor="middle"><tspan font-style="italic">z/d</tspan><tspan font-size="19.5" dy="7.7"><tspan class="o1">1</tspan></tspan></text>
<text x="410.9" y="622.3" font-size="28" font-weight="bold" text-anchor="end">(e) <tspan font-style="italic">x/d</tspan><tspan font-size="19" dy="7.6"><tspan class="o1">1</tspan></tspan><tspan dy="-7.6">=<tspan class="o1">1</tspan>5</tspan></text>
<g stroke="#000" stroke-width="3.2" fill="none">
<path d="M428.8 1040.3H753.9"/>
<path d="M430.4 1040.3V1029.6"/>
<path d="M537.7 1040.3V1029.6"/>
<path d="M645 1040.3V1029.6"/>
<path d="M752.3 1040.3V1029.6"/>
<path d="M484.05 1040.3V1034.9"/>
<path d="M591.35 1040.3V1034.9"/>
<path d="M698.65 1040.3V1034.9"/>
</g>
<g clip-path="url(#c5)">
<polyline fill="none" stroke="#2F79B6" stroke-width="3.2" stroke-linejoin="round" points="430.4,615.3 523,650.72 527.08,686.13 530.94,721.55 533.19,756.97 535.12,792.38 529.12,827.8 530.4,863.22 527.83,898.63 526.86,934.05 525.25,969.47 517.42,1004.88 430.4,1040.3"/>
<rect x="424.8" y="609.7" width="11.2" height="11.2" fill="#3B85C0" stroke="#2B6FAC" stroke-width="0.8"/>
<rect x="517.4" y="645.12" width="11.2" height="11.2" fill="#3B85C0" stroke="#2B6FAC" stroke-width="0.8"/>
<rect x="521.48" y="680.53" width="11.2" height="11.2" fill="#3B85C0" stroke="#2B6FAC" stroke-width="0.8"/>
<rect x="525.34" y="715.95" width="11.2" height="11.2" fill="#3B85C0" stroke="#2B6FAC" stroke-width="0.8"/>
<rect x="527.59" y="751.37" width="11.2" height="11.2" fill="#3B85C0" stroke="#2B6FAC" stroke-width="0.8"/>
<rect x="529.52" y="786.78" width="11.2" height="11.2" fill="#3B85C0" stroke="#2B6FAC" stroke-width="0.8"/>
<rect x="523.52" y="822.2" width="11.2" height="11.2" fill="#3B85C0" stroke="#2B6FAC" stroke-width="0.8"/>
<rect x="524.8" y="857.62" width="11.2" height="11.2" fill="#3B85C0" stroke="#2B6FAC" stroke-width="0.8"/>
<rect x="522.23" y="893.03" width="11.2" height="11.2" fill="#3B85C0" stroke="#2B6FAC" stroke-width="0.8"/>
<rect x="521.26" y="928.45" width="11.2" height="11.2" fill="#3B85C0" stroke="#2B6FAC" stroke-width="0.8"/>
<rect x="519.65" y="963.87" width="11.2" height="11.2" fill="#3B85C0" stroke="#2B6FAC" stroke-width="0.8"/>
<rect x="511.82" y="999.28" width="11.2" height="11.2" fill="#3B85C0" stroke="#2B6FAC" stroke-width="0.8"/>
<rect x="424.8" y="1034.7" width="11.2" height="11.2" fill="#3B85C0" stroke="#2B6FAC" stroke-width="0.8"/>
<polyline fill="none" stroke="#E7B424" stroke-width="3.2" stroke-linejoin="round" points="430.4,615.3 520.21,650.72 518.17,686.13 518.82,721.55 520.21,756.97 539.63,792.38 534.48,827.8 535.23,863.22 534.59,898.63 530.62,934.05 529.33,969.47 526.86,1004.88 430.4,1040.3"/>
<circle cx="430.4" cy="615.3" r="6.6" fill="#E9BA2C" stroke="#DCA91E" stroke-width="0.8"/>
<circle cx="520.21" cy="650.72" r="6.6" fill="#E9BA2C" stroke="#DCA91E" stroke-width="0.8"/>
<circle cx="518.17" cy="686.13" r="6.6" fill="#E9BA2C" stroke="#DCA91E" stroke-width="0.8"/>
<circle cx="518.82" cy="721.55" r="6.6" fill="#E9BA2C" stroke="#DCA91E" stroke-width="0.8"/>
<circle cx="520.21" cy="756.97" r="6.6" fill="#E9BA2C" stroke="#DCA91E" stroke-width="0.8"/>
<circle cx="539.63" cy="792.38" r="6.6" fill="#E9BA2C" stroke="#DCA91E" stroke-width="0.8"/>
<circle cx="534.48" cy="827.8" r="6.6" fill="#E9BA2C" stroke="#DCA91E" stroke-width="0.8"/>
<circle cx="535.23" cy="863.22" r="6.6" fill="#E9BA2C" stroke="#DCA91E" stroke-width="0.8"/>
<circle cx="534.59" cy="898.63" r="6.6" fill="#E9BA2C" stroke="#DCA91E" stroke-width="0.8"/>
<circle cx="530.62" cy="934.05" r="6.6" fill="#E9BA2C" stroke="#DCA91E" stroke-width="0.8"/>
<circle cx="529.33" cy="969.47" r="6.6" fill="#E9BA2C" stroke="#DCA91E" stroke-width="0.8"/>
<circle cx="526.86" cy="1004.88" r="6.6" fill="#E9BA2C" stroke="#DCA91E" stroke-width="0.8"/>
<circle cx="430.4" cy="1040.3" r="6.6" fill="#E9BA2C" stroke="#DCA91E" stroke-width="0.8"/>
<polyline fill="none" stroke="#A02929" stroke-width="3.2" stroke-linejoin="round" points="430.4,615.3 514.31,650.72 507.55,686.13 511.09,721.55 523.54,756.97 536.52,792.38 543.71,827.8 542.21,863.22 541.35,898.63 539.63,934.05 537.49,969.47 536.31,1004.88 430.4,1040.3"/>
<path d="M430.4 606.64L437.9 619.63L422.9 619.63Z" fill="#A53434" stroke="#8E2020" stroke-width="0.8" stroke-linejoin="miter"/>
<path d="M514.31 642.06L521.81 655.05L506.81 655.05Z" fill="#A53434" stroke="#8E2020" stroke-width="0.8" stroke-linejoin="miter"/>
<path d="M507.55 677.47L515.05 690.46L500.05 690.46Z" fill="#A53434" stroke="#8E2020" stroke-width="0.8" stroke-linejoin="miter"/>
<path d="M511.09 712.89L518.59 725.88L503.59 725.88Z" fill="#A53434" stroke="#8E2020" stroke-width="0.8" stroke-linejoin="miter"/>
<path d="M523.54 748.31L531.04 761.3L516.04 761.3Z" fill="#A53434" stroke="#8E2020" stroke-width="0.8" stroke-linejoin="miter"/>
<path d="M536.52 783.72L544.02 796.71L529.02 796.71Z" fill="#A53434" stroke="#8E2020" stroke-width="0.8" stroke-linejoin="miter"/>
<path d="M543.71 819.14L551.21 832.13L536.21 832.13Z" fill="#A53434" stroke="#8E2020" stroke-width="0.8" stroke-linejoin="miter"/>
<path d="M542.21 854.56L549.71 867.55L534.71 867.55Z" fill="#A53434" stroke="#8E2020" stroke-width="0.8" stroke-linejoin="miter"/>
<path d="M541.35 889.97L548.85 902.96L533.85 902.96Z" fill="#A53434" stroke="#8E2020" stroke-width="0.8" stroke-linejoin="miter"/>
<path d="M539.63 925.39L547.13 938.38L532.13 938.38Z" fill="#A53434" stroke="#8E2020" stroke-width="0.8" stroke-linejoin="miter"/>
<path d="M537.49 960.81L544.99 973.8L529.99 973.8Z" fill="#A53434" stroke="#8E2020" stroke-width="0.8" stroke-linejoin="miter"/>
<path d="M536.31 996.22L543.81 1009.21L528.81 1009.21Z" fill="#A53434" stroke="#8E2020" stroke-width="0.8" stroke-linejoin="miter"/>
<path d="M430.4 1031.64L437.9 1044.63L422.9 1044.63Z" fill="#A53434" stroke="#8E2020" stroke-width="0.8" stroke-linejoin="miter"/>
</g>
<text transform="translate(430.4 1073.7) scale(1 1.04)" font-size="28" text-anchor="middle">0</text>
<text transform="translate(537.7 1073.7) scale(1 1.04)" font-size="28" text-anchor="middle"><tspan class="o1">1</tspan></text>
<text transform="translate(645 1073.7) scale(1 1.04)" font-size="28" text-anchor="middle">2</text>
<text transform="translate(752.3 1073.7) scale(1 1.04)" font-size="28" text-anchor="middle">3</text>
<text x="591.35" y="1109.1" font-size="28" text-anchor="middle"><tspan font-style="italic">u</tspan><tspan font-style="italic">/U</tspan><tspan font-size="19.5" dy="7.7">0</tspan></text>
<text x="752.9" y="622.3" font-size="28" font-weight="bold" text-anchor="end">(f) <tspan font-style="italic">x/d</tspan><tspan font-size="19" dy="7.6"><tspan class="o1">1</tspan></tspan><tspan dy="-7.6">=20</tspan></text>
<g stroke="#000" stroke-width="3.2" fill="none">
<path d="M777.4 1040.3H1102.5"/>
<path d="M779 1040.3V1029.6"/>
<path d="M886.3 1040.3V1029.6"/>
<path d="M993.6 1040.3V1029.6"/>
<path d="M1100.9 1040.3V1029.6"/>
<path d="M832.65 1040.3V1034.9"/>
<path d="M939.95 1040.3V1034.9"/>
<path d="M1047.25 1040.3V1034.9"/>
</g>
<g clip-path="url(#c6)">
<polyline fill="none" stroke="#2F79B6" stroke-width="3.2" stroke-linejoin="round" points="779,615.3 873.96,650.72 878.57,686.13 881.79,721.55 882.65,756.97 884.58,792.38 879.75,827.8 879.11,863.22 878.15,898.63 877.29,934.05 874.39,969.47 866.88,1004.88 779,1040.3"/>
<rect x="773.4" y="609.7" width="11.2" height="11.2" fill="#3B85C0" stroke="#2B6FAC" stroke-width="0.8"/>
<rect x="868.36" y="645.12" width="11.2" height="11.2" fill="#3B85C0" stroke="#2B6FAC" stroke-width="0.8"/>
<rect x="872.97" y="680.53" width="11.2" height="11.2" fill="#3B85C0" stroke="#2B6FAC" stroke-width="0.8"/>
<rect x="876.19" y="715.95" width="11.2" height="11.2" fill="#3B85C0" stroke="#2B6FAC" stroke-width="0.8"/>
<rect x="877.05" y="751.37" width="11.2" height="11.2" fill="#3B85C0" stroke="#2B6FAC" stroke-width="0.8"/>
<rect x="878.98" y="786.78" width="11.2" height="11.2" fill="#3B85C0" stroke="#2B6FAC" stroke-width="0.8"/>
<rect x="874.15" y="822.2" width="11.2" height="11.2" fill="#3B85C0" stroke="#2B6FAC" stroke-width="0.8"/>
<rect x="873.51" y="857.62" width="11.2" height="11.2" fill="#3B85C0" stroke="#2B6FAC" stroke-width="0.8"/>
<rect x="872.55" y="893.03" width="11.2" height="11.2" fill="#3B85C0" stroke="#2B6FAC" stroke-width="0.8"/>
<rect x="871.69" y="928.45" width="11.2" height="11.2" fill="#3B85C0" stroke="#2B6FAC" stroke-width="0.8"/>
<rect x="868.79" y="963.87" width="11.2" height="11.2" fill="#3B85C0" stroke="#2B6FAC" stroke-width="0.8"/>
<rect x="861.28" y="999.28" width="11.2" height="11.2" fill="#3B85C0" stroke="#2B6FAC" stroke-width="0.8"/>
<rect x="773.4" y="1034.7" width="11.2" height="11.2" fill="#3B85C0" stroke="#2B6FAC" stroke-width="0.8"/>
<polyline fill="none" stroke="#E7B424" stroke-width="3.2" stroke-linejoin="round" points="779,615.3 872.24,650.72 872.57,686.13 870.85,721.55 871.49,756.97 877.5,792.38 886.19,827.8 882.22,863.22 881.58,898.63 879.97,934.05 878.79,969.47 874.39,1004.88 779,1040.3"/>
<circle cx="779" cy="615.3" r="6.6" fill="#E9BA2C" stroke="#DCA91E" stroke-width="0.8"/>
<circle cx="872.24" cy="650.72" r="6.6" fill="#E9BA2C" stroke="#DCA91E" stroke-width="0.8"/>
<circle cx="872.57" cy="686.13" r="6.6" fill="#E9BA2C" stroke="#DCA91E" stroke-width="0.8"/>
<circle cx="870.85" cy="721.55" r="6.6" fill="#E9BA2C" stroke="#DCA91E" stroke-width="0.8"/>
<circle cx="871.49" cy="756.97" r="6.6" fill="#E9BA2C" stroke="#DCA91E" stroke-width="0.8"/>
<circle cx="877.5" cy="792.38" r="6.6" fill="#E9BA2C" stroke="#DCA91E" stroke-width="0.8"/>
<circle cx="886.19" cy="827.8" r="6.6" fill="#E9BA2C" stroke="#DCA91E" stroke-width="0.8"/>
<circle cx="882.22" cy="863.22" r="6.6" fill="#E9BA2C" stroke="#DCA91E" stroke-width="0.8"/>
<circle cx="881.58" cy="898.63" r="6.6" fill="#E9BA2C" stroke="#DCA91E" stroke-width="0.8"/>
<circle cx="879.97" cy="934.05" r="6.6" fill="#E9BA2C" stroke="#DCA91E" stroke-width="0.8"/>
<circle cx="878.79" cy="969.47" r="6.6" fill="#E9BA2C" stroke="#DCA91E" stroke-width="0.8"/>
<circle cx="874.39" cy="1004.88" r="6.6" fill="#E9BA2C" stroke="#DCA91E" stroke-width="0.8"/>
<circle cx="779" cy="1040.3" r="6.6" fill="#E9BA2C" stroke="#DCA91E" stroke-width="0.8"/>
<polyline fill="none" stroke="#A02929" stroke-width="3.2" stroke-linejoin="round" points="779,615.3 862.8,650.72 862.8,686.13 865.48,721.55 875.57,756.97 882.54,792.38 884.91,827.8 889.63,863.22 888.45,898.63 888.23,934.05 886.94,969.47 882.65,1004.88 779,1040.3"/>
<path d="M779 606.64L786.5 619.63L771.5 619.63Z" fill="#A53434" stroke="#8E2020" stroke-width="0.8" stroke-linejoin="miter"/>
<path d="M862.8 642.06L870.3 655.05L855.3 655.05Z" fill="#A53434" stroke="#8E2020" stroke-width="0.8" stroke-linejoin="miter"/>
<path d="M862.8 677.47L870.3 690.46L855.3 690.46Z" fill="#A53434" stroke="#8E2020" stroke-width="0.8" stroke-linejoin="miter"/>
<path d="M865.48 712.89L872.98 725.88L857.98 725.88Z" fill="#A53434" stroke="#8E2020" stroke-width="0.8" stroke-linejoin="miter"/>
<path d="M875.57 748.31L883.07 761.3L868.07 761.3Z" fill="#A53434" stroke="#8E2020" stroke-width="0.8" stroke-linejoin="miter"/>
<path d="M882.54 783.72L890.04 796.71L875.04 796.71Z" fill="#A53434" stroke="#8E2020" stroke-width="0.8" stroke-linejoin="miter"/>
<path d="M884.91 819.14L892.41 832.13L877.41 832.13Z" fill="#A53434" stroke="#8E2020" stroke-width="0.8" stroke-linejoin="miter"/>
<path d="M889.63 854.56L897.13 867.55L882.13 867.55Z" fill="#A53434" stroke="#8E2020" stroke-width="0.8" stroke-linejoin="miter"/>
<path d="M888.45 889.97L895.95 902.96L880.95 902.96Z" fill="#A53434" stroke="#8E2020" stroke-width="0.8" stroke-linejoin="miter"/>
<path d="M888.23 925.39L895.73 938.38L880.73 938.38Z" fill="#A53434" stroke="#8E2020" stroke-width="0.8" stroke-linejoin="miter"/>
<path d="M886.94 960.81L894.44 973.8L879.44 973.8Z" fill="#A53434" stroke="#8E2020" stroke-width="0.8" stroke-linejoin="miter"/>
<path d="M882.65 996.22L890.15 1009.21L875.15 1009.21Z" fill="#A53434" stroke="#8E2020" stroke-width="0.8" stroke-linejoin="miter"/>
<path d="M779 1031.64L786.5 1044.63L771.5 1044.63Z" fill="#A53434" stroke="#8E2020" stroke-width="0.8" stroke-linejoin="miter"/>
</g>
<text transform="translate(779 1073.7) scale(1 1.04)" font-size="28" text-anchor="middle">0</text>
<text transform="translate(886.3 1073.7) scale(1 1.04)" font-size="28" text-anchor="middle"><tspan class="o1">1</tspan></text>
<text transform="translate(993.6 1073.7) scale(1 1.04)" font-size="28" text-anchor="middle">2</text>
<text transform="translate(1100.9 1073.7) scale(1 1.04)" font-size="28" text-anchor="middle">3</text>
<text x="939.95" y="1109.1" font-size="28" text-anchor="middle"><tspan font-style="italic">u</tspan><tspan font-style="italic">/U</tspan><tspan font-size="19.5" dy="7.7">0</tspan></text>
<text x="1110.3" y="622.3" font-size="28" font-weight="bold" text-anchor="end">(g) <tspan font-style="italic">x/d</tspan><tspan font-size="19" dy="7.6"><tspan class="o1">1</tspan></tspan><tspan dy="-7.6">=25</tspan></text>
<g stroke="#000" stroke-width="3.2" fill="none">
<path d="M1165.1 1040.3H1490.2"/>
<path d="M1166.7 1040.3V1029.6"/>
<path d="M1274 1040.3V1029.6"/>
<path d="M1381.3 1040.3V1029.6"/>
<path d="M1488.6 1040.3V1029.6"/>
<path d="M1220.35 1040.3V1034.9"/>
<path d="M1327.65 1040.3V1034.9"/>
<path d="M1434.95 1040.3V1034.9"/>
</g>
<g clip-path="url(#c7)">
<polyline fill="none" stroke="#2F79B6" stroke-width="3.2" stroke-linejoin="round" points="1166.7,615.3 1254.69,650.72 1267.67,686.13 1270.24,721.55 1271.32,756.97 1272.93,792.38 1269.39,827.8 1268.53,863.22 1268.1,898.63 1263.48,934.05 1263.06,969.47 1254.04,1004.88 1166.7,1040.3"/>
<rect x="1161.1" y="609.7" width="11.2" height="11.2" fill="#3B85C0" stroke="#2B6FAC" stroke-width="0.8"/>
<rect x="1249.09" y="645.12" width="11.2" height="11.2" fill="#3B85C0" stroke="#2B6FAC" stroke-width="0.8"/>
<rect x="1262.07" y="680.53" width="11.2" height="11.2" fill="#3B85C0" stroke="#2B6FAC" stroke-width="0.8"/>
<rect x="1264.64" y="715.95" width="11.2" height="11.2" fill="#3B85C0" stroke="#2B6FAC" stroke-width="0.8"/>
<rect x="1265.72" y="751.37" width="11.2" height="11.2" fill="#3B85C0" stroke="#2B6FAC" stroke-width="0.8"/>
<rect x="1267.33" y="786.78" width="11.2" height="11.2" fill="#3B85C0" stroke="#2B6FAC" stroke-width="0.8"/>
<rect x="1263.79" y="822.2" width="11.2" height="11.2" fill="#3B85C0" stroke="#2B6FAC" stroke-width="0.8"/>
<rect x="1262.93" y="857.62" width="11.2" height="11.2" fill="#3B85C0" stroke="#2B6FAC" stroke-width="0.8"/>
<rect x="1262.5" y="893.03" width="11.2" height="11.2" fill="#3B85C0" stroke="#2B6FAC" stroke-width="0.8"/>
<rect x="1257.88" y="928.45" width="11.2" height="11.2" fill="#3B85C0" stroke="#2B6FAC" stroke-width="0.8"/>
<rect x="1257.46" y="963.87" width="11.2" height="11.2" fill="#3B85C0" stroke="#2B6FAC" stroke-width="0.8"/>
<rect x="1248.44" y="999.28" width="11.2" height="11.2" fill="#3B85C0" stroke="#2B6FAC" stroke-width="0.8"/>
<rect x="1161.1" y="1034.7" width="11.2" height="11.2" fill="#3B85C0" stroke="#2B6FAC" stroke-width="0.8"/>
<polyline fill="none" stroke="#E7B424" stroke-width="3.2" stroke-linejoin="round" points="1166.7,615.3 1260.16,650.72 1258.76,686.13 1262.2,721.55 1260.8,756.97 1268.21,792.38 1272.93,827.8 1270.24,863.22 1268.85,898.63 1265.63,934.05 1264.99,969.47 1265.63,1004.88 1166.7,1040.3"/>
<circle cx="1166.7" cy="615.3" r="6.6" fill="#E9BA2C" stroke="#DCA91E" stroke-width="0.8"/>
<circle cx="1260.16" cy="650.72" r="6.6" fill="#E9BA2C" stroke="#DCA91E" stroke-width="0.8"/>
<circle cx="1258.76" cy="686.13" r="6.6" fill="#E9BA2C" stroke="#DCA91E" stroke-width="0.8"/>
<circle cx="1262.2" cy="721.55" r="6.6" fill="#E9BA2C" stroke="#DCA91E" stroke-width="0.8"/>
<circle cx="1260.8" cy="756.97" r="6.6" fill="#E9BA2C" stroke="#DCA91E" stroke-width="0.8"/>
<circle cx="1268.21" cy="792.38" r="6.6" fill="#E9BA2C" stroke="#DCA91E" stroke-width="0.8"/>
<circle cx="1272.93" cy="827.8" r="6.6" fill="#E9BA2C" stroke="#DCA91E" stroke-width="0.8"/>
<circle cx="1270.24" cy="863.22" r="6.6" fill="#E9BA2C" stroke="#DCA91E" stroke-width="0.8"/>
<circle cx="1268.85" cy="898.63" r="6.6" fill="#E9BA2C" stroke="#DCA91E" stroke-width="0.8"/>
<circle cx="1265.63" cy="934.05" r="6.6" fill="#E9BA2C" stroke="#DCA91E" stroke-width="0.8"/>
<circle cx="1264.99" cy="969.47" r="6.6" fill="#E9BA2C" stroke="#DCA91E" stroke-width="0.8"/>
<circle cx="1265.63" cy="1004.88" r="6.6" fill="#E9BA2C" stroke="#DCA91E" stroke-width="0.8"/>
<circle cx="1166.7" cy="1040.3" r="6.6" fill="#E9BA2C" stroke="#DCA91E" stroke-width="0.8"/>
<polyline fill="none" stroke="#A02929" stroke-width="3.2" stroke-linejoin="round" points="1166.7,615.3 1254.26,650.72 1255.76,686.13 1255.76,721.55 1265.74,756.97 1269.6,792.38 1272.18,827.8 1275.82,863.22 1274.54,898.63 1274.43,934.05 1272.5,969.47 1270.03,1004.88 1166.7,1040.3"/>
<path d="M1166.7 606.64L1174.2 619.63L1159.2 619.63Z" fill="#A53434" stroke="#8E2020" stroke-width="0.8" stroke-linejoin="miter"/>
<path d="M1254.26 642.06L1261.76 655.05L1246.76 655.05Z" fill="#A53434" stroke="#8E2020" stroke-width="0.8" stroke-linejoin="miter"/>
<path d="M1255.76 677.47L1263.26 690.46L1248.26 690.46Z" fill="#A53434" stroke="#8E2020" stroke-width="0.8" stroke-linejoin="miter"/>
<path d="M1255.76 712.89L1263.26 725.88L1248.26 725.88Z" fill="#A53434" stroke="#8E2020" stroke-width="0.8" stroke-linejoin="miter"/>
<path d="M1265.74 748.31L1273.24 761.3L1258.24 761.3Z" fill="#A53434" stroke="#8E2020" stroke-width="0.8" stroke-linejoin="miter"/>
<path d="M1269.6 783.72L1277.1 796.71L1262.1 796.71Z" fill="#A53434" stroke="#8E2020" stroke-width="0.8" stroke-linejoin="miter"/>
<path d="M1272.18 819.14L1279.68 832.13L1264.68 832.13Z" fill="#A53434" stroke="#8E2020" stroke-width="0.8" stroke-linejoin="miter"/>
<path d="M1275.82 854.56L1283.32 867.55L1268.32 867.55Z" fill="#A53434" stroke="#8E2020" stroke-width="0.8" stroke-linejoin="miter"/>
<path d="M1274.54 889.97L1282.04 902.96L1267.04 902.96Z" fill="#A53434" stroke="#8E2020" stroke-width="0.8" stroke-linejoin="miter"/>
<path d="M1274.43 925.39L1281.93 938.38L1266.93 938.38Z" fill="#A53434" stroke="#8E2020" stroke-width="0.8" stroke-linejoin="miter"/>
<path d="M1272.5 960.81L1280 973.8L1265 973.8Z" fill="#A53434" stroke="#8E2020" stroke-width="0.8" stroke-linejoin="miter"/>
<path d="M1270.03 996.22L1277.53 1009.21L1262.53 1009.21Z" fill="#A53434" stroke="#8E2020" stroke-width="0.8" stroke-linejoin="miter"/>
<path d="M1166.7 1031.64L1174.2 1044.63L1159.2 1044.63Z" fill="#A53434" stroke="#8E2020" stroke-width="0.8" stroke-linejoin="miter"/>
</g>
<text transform="translate(1166.7 1073.7) scale(1 1.04)" font-size="28" text-anchor="middle">0</text>
<text transform="translate(1274 1073.7) scale(1 1.04)" font-size="28" text-anchor="middle"><tspan class="o1">1</tspan></text>
<text transform="translate(1381.3 1073.7) scale(1 1.04)" font-size="28" text-anchor="middle">2</text>
<text transform="translate(1488.6 1073.7) scale(1 1.04)" font-size="28" text-anchor="middle">3</text>
<text x="1327.65" y="1109.1" font-size="28" text-anchor="middle"><tspan font-style="italic">u</tspan><tspan font-style="italic">/U</tspan><tspan font-size="19.5" dy="7.7">0</tspan></text>
<text x="1497.5" y="622.3" font-size="28" font-weight="bold" text-anchor="end">(h) <tspan font-style="italic">x/d</tspan><tspan font-size="19" dy="7.6"><tspan class="o1">1</tspan></tspan><tspan dy="-7.6">=30</tspan></text>
<text x="382" y="29.2" font-size="28"><tspan font-style="italic">R</tspan>=<tspan class="o1">1</tspan></text>
<path d="M497.4 19.6H572.7" stroke="#3B85C0" stroke-width="6" stroke-linecap="round"/>
<rect x="523.85" y="8.4" width="22.4" height="22.4" fill="#3B85C0"/>
<text x="588.5" y="29.2" font-size="28"><tspan font-style="italic">d/D</tspan>=<tspan class="o1">1</tspan>/<tspan class="o1">1</tspan>2</text>
<path d="M735 19.6H810.3" stroke="#E9BA2C" stroke-width="6" stroke-linecap="round"/>
<circle cx="772.65" cy="19.9" r="12.6" fill="#E9BA2C"/>
<text x="826.3" y="29.2" font-size="28"><tspan font-style="italic">d/D</tspan>=<tspan class="o1">1</tspan>/6</text>
<path d="M956.9 19.6H1032.7" stroke="#A53434" stroke-width="6" stroke-linecap="round"/>
<path d="M994.8 3.2L1009.8 28.6L979.8 28.6Z" fill="#A53434"/>
<text x="1048.6" y="29.2" font-size="28"><tspan font-style="italic">d/D</tspan>=<tspan class="o1">1</tspan>/4</text>
<defs><path id="r1" d="M763 0L583 0L583 1147Q518 1085 412 1023Q306 961 222 930L222 1104Q373 1175 486 1276Q599 1377 646 1472L763 1472Z"/><path id="b1" d="M854 0L573 0L573 1059Q419 915 210 846L210 1101Q320 1137 449 1237Q578 1337 626 1466L854 1466Z"/></defs>
<use href="#r1" transform="translate(187.4 538.1) scale(1 1.04) translate(-7.79 0) scale(0.01367 -0.01315)"/>
<use href="#r1" transform="translate(68.4 442.15) scale(1 1.04) translate(-31.15 0) scale(0.01367 -0.01315)"/>
<use href="#r1" transform="translate(68.4 513.1) scale(1 1.04) translate(-31.15 0) scale(0.01367 -0.01315)"/>
<use href="#r1" transform="translate(22.8 291.55) rotate(-90) translate(13.25 7.7) scale(0.00952 -0.00952)"/>
<use href="#b1" transform="translate(351.28 93.6) scale(0.00928 -0.00928)"/>
<use href="#b1" transform="translate(378.22 86) scale(0.01367 -0.01367)"/>
<use href="#r1" transform="translate(536.3 538.1) scale(1 1.04) translate(-7.79 0) scale(0.01367 -0.01315)"/>
<use href="#b1" transform="translate(701.58 93.6) scale(0.00928 -0.00928)"/>
<use href="#r1" transform="translate(886.6 538.1) scale(1 1.04) translate(-7.79 0) scale(0.01367 -0.01315)"/>
<use href="#b1" transform="translate(1050.98 93.6) scale(0.00928 -0.00928)"/>
<use href="#r1" transform="translate(1236.8 538.1) scale(1 1.04) translate(-7.79 0) scale(0.01367 -0.01315)"/>
<use href="#b1" transform="translate(1402.81 93.6) scale(0.00928 -0.00928)"/>
<use href="#b1" transform="translate(1429.74 86) scale(0.01367 -0.01367)"/>
<use href="#r1" transform="translate(188.4 1073.7) scale(1 1.04) translate(-7.79 0) scale(0.01367 -0.01315)"/>
<use href="#r1" transform="translate(68.4 977.87) scale(1 1.04) translate(-31.15 0) scale(0.01367 -0.01315)"/>
<use href="#r1" transform="translate(68.4 1048.7) scale(1 1.04) translate(-31.15 0) scale(0.01367 -0.01315)"/>
<use href="#r1" transform="translate(22.8 827.5) rotate(-90) translate(13.25 7.7) scale(0.00952 -0.00952)"/>
<use href="#b1" transform="translate(352.81 629.9) scale(0.00928 -0.00928)"/>
<use href="#b1" transform="translate(379.74 622.3) scale(0.01367 -0.01367)"/>
<use href="#r1" transform="translate(537.7 1073.7) scale(1 1.04) translate(-7.79 0) scale(0.01367 -0.01315)"/>
<use href="#b1" transform="translate(694.82 629.9) scale(0.00928 -0.00928)"/>
<use href="#r1" transform="translate(886.3 1073.7) scale(1 1.04) translate(-7.79 0) scale(0.01367 -0.01315)"/>
<use href="#b1" transform="translate(1052.22 629.9) scale(0.00928 -0.00928)"/>
<use href="#r1" transform="translate(1274 1073.7) scale(1 1.04) translate(-7.79 0) scale(0.01367 -0.01315)"/>
<use href="#b1" transform="translate(1439.42 629.9) scale(0.00928 -0.00928)"/>
<use href="#r1" transform="translate(418.59 29.2) scale(0.01367 -0.01367)"/>
<use href="#r1" transform="translate(648.44 29.2) scale(0.01367 -0.01367)"/>
<use href="#r1" transform="translate(671.8 29.2) scale(0.01367 -0.01367)"/>
<use href="#r1" transform="translate(886.24 29.2) scale(0.01367 -0.01367)"/>
<use href="#r1" transform="translate(1108.54 29.2) scale(0.01367 -0.01367)"/>
</svg></body></html>
